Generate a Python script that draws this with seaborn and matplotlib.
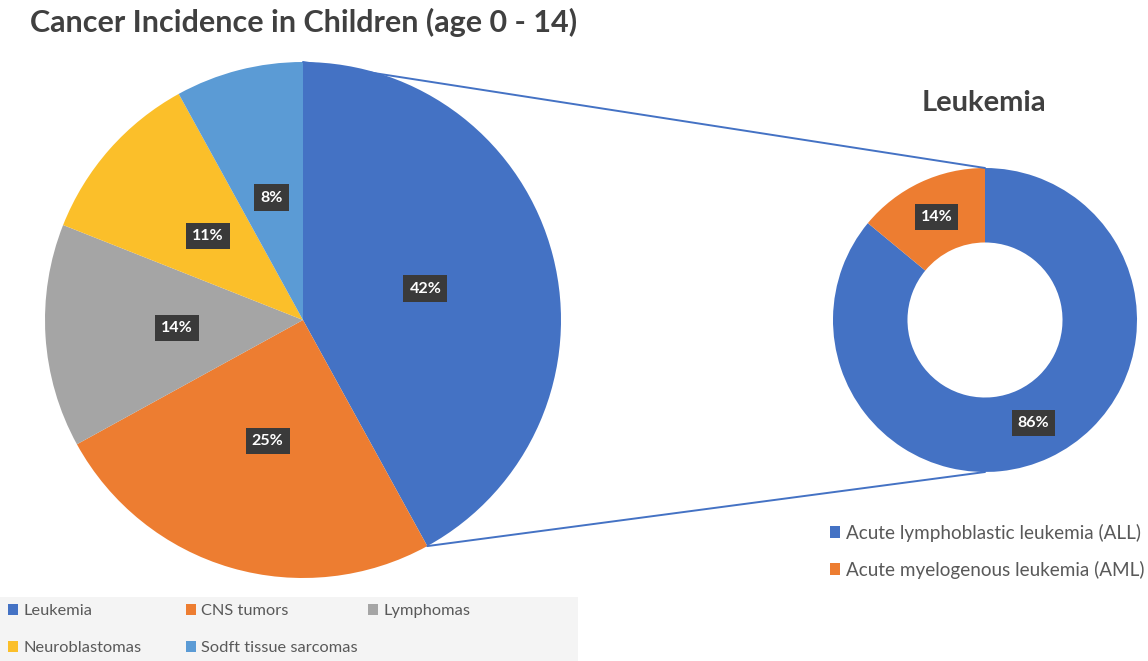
import matplotlib
matplotlib.use("Agg")
import numpy as np
import matplotlib.pyplot as plt
from matplotlib.patches import Patch, Rectangle, ConnectionPatch
import seaborn as sns

# --- Data ---
cancer_types = ["Leukemia", "CNS tumors", "Lymphomas", "Neuroblastomas", "Sodft tissue sarcomas"]
cancer_share = [42, 25, 14, 11, 8]
leuk_types = ["Acute lymphoblastic leukemia (ALL)", "Acute myelogenous leukemia (AML)"]
leuk_share = [86, 14]

# --- Style ---
sns.set_theme(style="white")
plt.rcParams["font.family"] = ["Lato", "DejaVu Sans"]

palette = sns.color_palette(["#4472C4", "#ED7D31", "#A5A5A5", "#FBBF2A", "#5B9BD5"])
leuk_colors = [palette[0], palette[1]]
TEXT_GREY = "#404040"
LEGEND_GREY = "#595959"

W, H = 1148, 661
fig = plt.figure(figsize=(W / 100, H / 100), dpi=100)
fig.patch.set_facecolor("white")


def px_axes(cx, cy, r):
    # axes box (figure fraction) for a circle centred at pixel cx, cy with radius r
    return [(cx - r) / W, (H - cy - r) / H, 2 * r / W, 2 * r / H]


label_props = dict(color="white", fontweight="bold", fontsize=11.5)
box = dict(boxstyle="square,pad=0.38", facecolor="#3a3a3a", edgecolor="none")

# --- Main pie ---
ax_pie = fig.add_axes(px_axes(303, 320, 258))
wedges, _, autotexts = ax_pie.pie(cancer_share, colors=palette, startangle=90, counterclock=False,
                                  autopct="%1.0f%%", pctdistance=0.49, radius=1,
                                  wedgeprops=dict(linewidth=0), textprops=label_props)
for t in autotexts:
    t.set_bbox(box)
ax_pie.set_xlim(-1, 1)
ax_pie.set_ylim(-1, 1)
ax_pie.set_aspect("equal")
ax_pie.axis("off")

# --- Leukemia donut ---
ax_don = fig.add_axes(px_axes(985, 320, 152))
dwedges, _, dtexts = ax_don.pie(leuk_share, colors=leuk_colors, startangle=90, counterclock=False,
                                autopct="%1.0f%%", pctdistance=0.75, radius=1,
                                wedgeprops=dict(width=0.49, linewidth=0), textprops=label_props)
for t in dtexts:
    t.set_bbox(box)
ax_don.set_xlim(-1, 1)
ax_don.set_ylim(-1, 1)
ax_don.set_aspect("equal")
ax_don.axis("off")

# --- Connector lines from the leukemia wedge to the donut ---
lk = wedges[0]
for ang, yd in [(lk.theta2, 1), (lk.theta1, -1)]:
    xa, ya = np.cos(np.radians(ang)), np.sin(np.radians(ang))
    con = ConnectionPatch(xyA=(xa, ya), coordsA=ax_pie.transData,
                          xyB=(0, yd), coordsB=ax_don.transData,
                          color=palette[0], linewidth=1.4)
    fig.add_artist(con)

# --- Titles ---
fig.text(30 / W, 1 - 22 / H, "Cancer Incidence in Children (age 0 - 14)", fontsize=22,
         fontweight="bold", color=TEXT_GREY, ha="left", va="center")
fig.text(984 / W, 1 - 103 / H, "Leukemia", fontsize=21, fontweight="bold",
         color=TEXT_GREY, ha="center", va="center")

# --- Legends ---
fig.add_artist(Rectangle((0, 0), 578 / W, 64 / H, transform=fig.transFigure,
                         facecolor="#f4f4f4", edgecolor="none", zorder=0))
columns = [(5, [0, 3]), (183, [1, 4]), (365, [2])]
for x0, idx in columns:
    handles = [Patch(facecolor=palette[i], edgecolor="none") for i in idx]
    fig.legend(handles, [cancer_types[i] for i in idx], loc="upper left",
               bbox_to_anchor=(x0 / W, 1 - 601 / H), frameon=False, fontsize=11.8,
               labelcolor=LEGEND_GREY, handlelength=0.6, handleheight=0.6,
               handletextpad=0.3, labelspacing=1.4, borderaxespad=0, borderpad=0.2)

lh = [Patch(facecolor=c, edgecolor="none") for c in leuk_colors]
fig.legend(lh, leuk_types, loc="upper left", bbox_to_anchor=(826 / W, 1 - 520 / H),
           frameon=False, fontsize=13.6, labelcolor=LEGEND_GREY, handlelength=0.55,
           handleheight=0.55, handletextpad=0.3, labelspacing=1.0, borderaxespad=0, borderpad=0.2)

fig.savefig("out.png", dpi=100)
